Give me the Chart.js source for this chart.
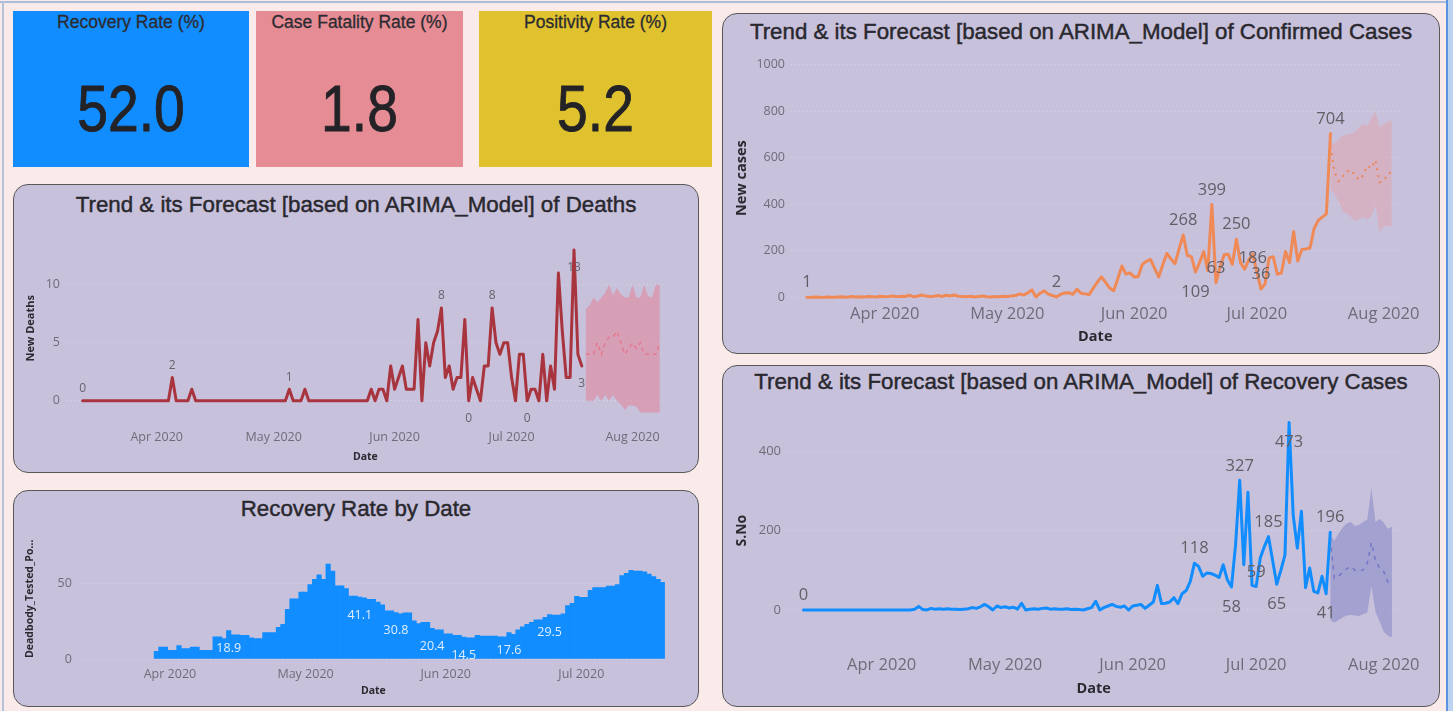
<!DOCTYPE html>
<html>
<head>
<meta charset="utf-8">
<title>COVID-19 Trend Dashboard</title>
<script src="https://cdn.jsdelivr.net/npm/chart.js@4.4.1/dist/chart.umd.min.js"></script>
<style>
  html, body { margin: 0; padding: 0; }
  body {
    width: 1453px; height: 711px; overflow: hidden; position: relative;
    background: #fbeaea; font-family: "Liberation Sans", Arial, sans-serif;
  }
  .frame-top { position: absolute; left: 0; top: 1px; width: 1446px; height: 2px; background: #aabddc; }
  .frame-left { position: absolute; left: 2px; top: 1px; width: 2px; height: 711px; background: #b4c2dc; }
  .edge { position: absolute; left: 1446px; top: 0; width: 7px; height: 711px; box-sizing: border-box;
          background: #bcd2f1; border-left: 2px solid #5b93e2; }
  .card { position: absolute; top: 11px; height: 156px; }
  .card .t { position: absolute; left: 0; right: 0; top: 0; text-align: center;
             font-size: 17.5px; line-height: 22px; color: #2c2b30; white-space: nowrap;
             -webkit-text-stroke: 0.3px #2c2b30; }
  .card .v { position: absolute; left: 0; right: 0; top: 66px; text-align: center;
             font-family: "Liberation Sans Narrow", "Liberation Sans", sans-serif;
             font-size: 65px; line-height: 64px; color: #232226;
             transform: scaleX(0.85); transform-origin: 50% 50%;
             -webkit-text-stroke: 0.9px #232226; }
  .panel { position: absolute; box-sizing: border-box; background: #c8c1dc;
           border: 1.6px solid #585858; border-radius: 15px; }
  .ptitle { position: absolute; text-align: center; font-size: 22.3px; line-height: 26px;
            color: #29282e; white-space: nowrap; -webkit-text-stroke: 0.45px #29282e; }
  .box { position: absolute; }
</style>
</head>
<body>
<div class="frame-top"></div>
<div class="frame-left"></div>
<div class="edge"></div>

<div id="cards"></div>

<div class="panel" style="left:13px;top:184px;width:686px;height:289px"></div>
<div class="panel" style="left:13px;top:490px;width:686px;height:217px"></div>
<div class="panel" style="left:722px;top:12.5px;width:718px;height:341px"></div>
<div class="panel" style="left:722px;top:365px;width:718px;height:342px"></div>

<div class="ptitle" style="left:13px;width:686px;top:192px">Trend &amp; its Forecast [based on ARIMA_Model] of Deaths</div>
<div class="ptitle" style="left:13px;width:686px;top:496px">Recovery Rate by Date</div>
<div class="ptitle" style="left:722px;width:718px;top:19px">Trend &amp; its Forecast [based on ARIMA_Model] of Confirmed Cases</div>
<div class="ptitle" style="left:722px;width:718px;top:369px">Trend &amp; its Forecast [based on ARIMA_Model] of Recovery Cases</div>

<div class="box" style="left:14px;top:218px;width:684px;height:252px"><canvas id="deathsChart"></canvas></div>
<div class="box" style="left:14px;top:520px;width:684px;height:186px"><canvas id="rateChart"></canvas></div>
<div class="box" style="left:722px;top:40px;width:716px;height:312px"><canvas id="confirmedChart"></canvas></div>
<div class="box" style="left:722px;top:398px;width:716px;height:307px"><canvas id="recoveryChart"></canvas></div>

<script>
// Day numbers count from 1 March 2020 (day 0); day 12 = 13 Mar, day 140 = 19 Jul.
const monthTickDays = [31, 61, 92, 122, 153];
const monthTickLabels = ['Apr 2020', 'May 2020', 'Jun 2020', 'Jul 2020', 'Aug 2020'];

// Headline cards
const kpiLabels = ['Recovery Rate (%)', 'Case Fatality Rate (%)', 'Positivity Rate (%)'];
const kpiValues = [52.0, 1.8, 5.2];
const kpiColors = ['#118dff', '#e68c94', '#e0c22e'];
const kpiBoxes = [[13, 236], [256, 207], [479, 233]];

// New deaths per day, 13 Mar .. 19 Jul
const deathsFirstDay = 12;
const newDeaths = [
  0, 0, 0, 0, 0, 0, 0, 0, 0, 0,
  0, 0, 0, 0, 0, 0, 0, 0, 0, 0,
  0, 0, 0, 2, 0, 0, 0, 0, 1, 0,
  0, 0, 0, 0, 0, 0, 0, 0, 0, 0,
  0, 0, 0, 0, 0, 0, 0, 0, 0, 0,
  0, 0, 0, 1, 0, 0, 0, 1, 0, 0,
  0, 0, 0, 0, 0, 0, 0, 0, 0, 0,
  0, 0, 0, 0, 1, 0, 1, 1, 0, 3,
  1, 2, 3, 1, 1, 1, 7, 0, 5, 3,
  5, 6, 8, 2, 3, 1, 2, 2, 7, 0,
  2, 1, 0, 3, 3, 8, 5, 4, 5, 5,
  2, 0, 4, 4, 0, 1, 1, 0, 4, 0,
  3, 1, 11, 6, 2, 2, 13, 4, 3
];
// ARIMA forecast of deaths, 20 Jul .. 8 Aug
const deathsForecastFirstDay = 141;
const deathsForecast = [4, 4, 4, 5, 4, 5, 5.5, 5.5, 6, 5, 4, 4.5, 5, 4.5, 5, 4, 4, 4, 4, 5];
const deathsUpper = [7.9, 8.2, 8.9, 8.5, 8.9, 9.3, 10, 9.1, 9.7, 9.2, 8.9, 8.9, 10, 8.9, 8.9, 10, 9, 8.9, 10, 10];
const deathsLower = [0, 0, 0, 0.5, 0, 0.5, 0, 0.5, 0, -0.3, -0.8, -0.4, -0.4, -0.5, -1, -1, -1, -1, -1, -1];
const deathsTicks = [0, 5, 10];
const deathsLabelled = [[12, 'above'], [35, 'above'], [65, 'above'], [104, 'above'], [111, 'below'],
                        [117, 'above'], [126, 'below'], [138, 'below'], [140, 'below']];

// New confirmed cases per day, 13 Mar .. 19 Jul
const confirmedFirstDay = 12;
const newCases = [
  1, 0, 2, 1, 0, 2, 1, 1, 3, 2,
  1, 4, 2, 3, 2, 4, 3, 2, 5, 3,
  4, 6, 3, 5, 4, 9, 3, 5, 10, 6,
  4, 5, 8, 4, 9, 6, 10, 5, 4, 3,
  5, 2, 4, 6, 3, 2, 4, 3, 5, 4,
  6, 8, 15, 10, 20, 32, 2, 18, 28, 14,
  8, 2, 13, 19, 20, 13, 35, 18, 15, 12,
  40, 65, 88, 65, 40, 29, 80, 135, 100, 105,
  88, 90, 142, 155, 163, 125, 88, 140, 189, 165,
  145, 210, 268, 180, 175, 109, 150, 197, 115, 399,
  63, 130, 183, 185, 142, 250, 150, 121, 160, 186,
  110, 36, 58, 170, 175, 100, 105, 197, 150, 283,
  156, 206, 208, 212, 296, 331, 345, 359, 704
];
// ARIMA forecast of confirmed cases, 19 Jul .. 3 Aug
const casesForecastFirstDay = 140;
const casesForecast = [650, 540, 500, 520, 540, 549, 525, 505, 525, 566, 555, 590, 495, 500, 530, 538];
const casesUpper = [665, 660, 680, 696, 700, 703, 712, 730, 745, 738, 770, 800, 730, 745, 755, 759];
const casesLower = [460, 445, 410, 370, 360, 345, 331, 335, 345, 335, 350, 395, 280, 305, 310, 303];
const casesTicks = [0, 200, 400, 600, 800, 1000];
const casesLabelled = [[12, 'above'], [73, 'above'], [104, 'above'], [107, 'below'], [111, 'above'],
                       [112, 'above'], [117, 'above'], [121, 'on'], [123, 'above'], [140, 'above']];

// Recoveries per day, 13 Mar .. 19 Jul
const recoveryFirstDay = 12;
const recoveries = [
  0, 0, 0, 0, 0, 0, 0, 0, 0, 0,
  0, 0, 0, 0, 0, 0, 0, 0, 0, 0,
  0, 0, 0, 0, 0, 0, 0, 2, 9, 1,
  0, 4, 2, 3, 2, 3, 2, 2, 1, 2,
  3, 6, 4, 8, 14, 8, 0, 10, 6, 8,
  5, 7, 2, 17, 0, 2, 3, 2, 4, 5,
  2, 3, 2, 2, 3, 1, 2, 1, 0, 3,
  6, 22, 0, 6, 10, 14, 9, 7, 10, 0,
  10, 12, 14, 4, 12, 20, 62, 16, 17, 20,
  31, 16, 41, 49, 72, 118, 110, 85, 93, 92,
  88, 82, 114, 76, 58, 164, 327, 114, 297, 62,
  59, 131, 160, 185, 125, 65, 100, 139, 473, 239,
  156, 249, 56, 106, 47, 43, 85, 41, 196
];
// ARIMA forecast of recoveries, 19 Jul .. 3 Aug
const recoveryForecastFirstDay = 140;
const recoveryForecast = [180, 80, 85, 95, 104, 110, 100, 98, 101, 118, 170, 125, 105, 97, 70, 62];
const recoveryUpper = [190, 175, 192, 208, 218, 222, 212, 215, 222, 228, 308, 222, 230, 220, 205, 210];
const recoveryLower = [-25, -32, -25, -19, -14, -12, -14, -15, -10, -7, 60, -5, -30, -55, -65, -69];
const recoveryTicks = [0, 200, 400];
const recoveryLabelled = [[12, 'above'], [107, 'above'], [116, 'below'], [118, 'above'], [122, 'above'],
                          [125, 'above'], [127, 'below'], [130, 'below'], [139, 'below'], [140, 'above']];

// Recovery rate (%) by date, 29 Mar .. 19 Jul
const rateFirstDay = 28;
const recoveryRate = [
  5.1, 8, 8, 5.8,
  5.8, 9, 7, 7, 8, 8, 5.8, 5.8, 5.8, 14.8,
  14.8, 13.5, 18.9, 16, 16, 15.7, 15.7, 14, 13.5, 13.5,
  17.5, 17.5, 17.5, 21, 23, 33, 40, 40, 44.5, 44.5,
  49.5, 53, 56, 53, 63, 58.5, 48.6, 48.6, 46.8, 41.8,
  41.8, 41.1, 40.7, 39.6, 39.6, 37.8, 36, 32, 32, 30.8,
  30, 30.6, 30.6, 25.4, 23.6, 24.3, 24.3, 20.4, 19.3, 19.3,
  16.8, 16.8, 15.7, 15.7, 14.5, 14.1, 14.1, 15.7, 15.3, 15.3,
  15.3, 15.3, 14.8, 14.8, 17.6, 16.4, 19.3, 21.3, 23, 24.3,
  26, 26, 27.7, 29.5, 29.2, 29.2, 30, 35.5, 37, 41.6,
  41, 41, 45.7, 47.5, 47.5, 47.5, 48.4, 48.4, 49.5, 55.4,
  57, 59, 58.5, 58.5, 58, 56.5, 54.7, 53, 50.9
];
const rateTicks = [0, 50];
const rateLabelled = [[44, 'in'], [73, 'in'], [81, 'in'], [89, 'in'], [96, 'in'], [106, 'in'], [115, 'in']];

// ---------------------------------------------------------------------------

document.getElementById('cards').innerHTML = kpiLabels.map((t, i) =>
  `<div class="card" style="left:${kpiBoxes[i][0]}px;width:${kpiBoxes[i][1]}px;background:${kpiColors[i]}">
     <div class="t">${t}</div><div class="v">${kpiValues[i].toFixed(1)}</div></div>`).join('');

function series(first, values) {
  return values.map((v, i) => ({ x: first + i, y: v }));
}

// Draws the value of selected points of the first dataset next to the mark.
function valueLabels(items, o) {
  return {
    id: 'valueLabels',
    afterDatasetsDraw(chart) {
      const pts = chart.data.datasets[0].data;
      const meta = chart.getDatasetMeta(0);
      const ctx = chart.ctx;
      ctx.save();
      ctx.font = o.font;
      ctx.fillStyle = o.color;
      ctx.textAlign = 'center';
      ctx.textBaseline = 'middle';
      items.forEach(([day, place]) => {
        const i = pts.findIndex(p => p.x === day);
        if (i < 0) return;
        const el = meta.data[i];
        const dy = place === 'above' ? -o.above : place === 'below' ? o.below : o.on;
        ctx.fillText(o.format(pts[i].y), el.x, el.y + dy);
      });
      ctx.restore();
    }
  };
}

const TICK_COLOR = '#6f6c78';
const TITLE_COLOR = '#2b2a30';
const GRID_COLOR = 'rgba(255,255,255,0.32)';

function axes(g) {
  return {
    x: {
      type: 'linear', min: g.xMin, max: g.xMax, offset: false,
      grid: { display: false, drawTicks: false }, border: { display: false },
      afterBuildTicks: s => { s.ticks = monthTickDays.filter(d => d >= g.xMin && d <= g.xMax).map(v => ({ value: v })); },
      afterFit: s => { s.height = g.xAxisH; },
      ticks: {
        autoSkip: false, maxRotation: 0, minRotation: 0, padding: g.xTickPad, color: TICK_COLOR,
        font: { family: 'Open Sans', size: g.xTickSize },
        callback: v => monthTickLabels[monthTickDays.indexOf(v)]
      },
      title: {
        display: true, text: 'Date', color: TITLE_COLOR,
        font: { family: 'Open Sans', size: g.xTitleSize, weight: 'bold' },
        padding: { top: 0, bottom: g.xTitlePad }
      }
    },
    y: {
      min: g.yMin, max: g.yMax,
      afterBuildTicks: s => { s.ticks = g.yTicks.map(v => ({ value: v })); },
      afterFit: s => { s.width = g.yAxisW; },
      grid: { color: GRID_COLOR, drawTicks: false, lineWidth: 1 },
      border: { display: false, dash: [1, 3] },
      ticks: {
        padding: g.yTickPad, color: TICK_COLOR,
        font: { family: 'Open Sans', size: g.yTickSize },
        callback: v => String(v)
      },
      title: {
        display: true, text: g.yTitle, color: TITLE_COLOR,
        font: { family: 'Open Sans', size: g.yTitleSize, weight: 'bold' },
        padding: { top: g.yTitlePad, bottom: 0 }
      }
    }
  };
}

function forecastChart(id, s, g, labels) {
  return new Chart(document.getElementById(id), {
    type: 'line',
    data: {
      datasets: [
        { data: series(s.first, s.actual), borderColor: s.color, borderWidth: 3, pointRadius: 0,
          tension: 0, fill: false, borderJoinStyle: 'round', borderCapStyle: 'round' },
        { data: series(s.fFirst, s.mean), borderColor: s.meanColor, borderWidth: s.meanWidth,
          borderDash: s.dash, pointRadius: 0, tension: 0, fill: false },
        { data: series(s.fFirst, s.upper), borderColor: 'transparent', borderWidth: 0, pointRadius: 0,
          tension: 0, fill: '+1', backgroundColor: s.band },
        { data: series(s.fFirst, s.lower), borderColor: 'transparent', borderWidth: 0, pointRadius: 0,
          tension: 0, fill: false }
      ]
    },
    options: {
      responsive: true, maintainAspectRatio: false, animation: false, devicePixelRatio: 1,
      layout: { padding: { left: 0, top: g.padTop, right: g.padRight, bottom: 0 } },
      plugins: { legend: { display: false }, tooltip: { enabled: false } },
      scales: axes(g)
    },
    plugins: [labels]
  });
}

// Deaths
forecastChart('deathsChart',
  { first: deathsFirstDay, actual: newDeaths, color: '#a8343d',
    fFirst: deathsForecastFirstDay, mean: deathsForecast, upper: deathsUpper, lower: deathsLower,
    meanColor: '#e4788f', meanWidth: 1.5, dash: [4, 4], band: 'rgba(226,132,152,0.55)' },
  { xMin: 8, xMax: 161, yMin: -2, yMax: 14.5, yTicks: deathsTicks, yTitle: 'New Deaths',
    padTop: 8, padRight: 34.3, yAxisW: 53, xAxisH: 46,
    xTickPad: 5.5, xTickSize: 12.5, yTickPad: 7, yTickSize: 12.5,
    xTitleSize: 10.5, xTitlePad: 6.7, yTitleSize: 11, yTitlePad: 10.4 },
  valueLabels(deathsLabelled, { font: '12px "Open Sans"', color: '#66636c', above: 12, below: 18, on: 0,
    format: v => String(v) }));

// Confirmed cases
forecastChart('confirmedChart',
  { first: confirmedFirstDay, actual: newCases, color: '#ef8a57',
    fFirst: casesForecastFirstDay, mean: casesForecast, upper: casesUpper, lower: casesLower,
    meanColor: '#e9875a', meanWidth: 2, dash: [2, 5], band: 'rgba(230,157,160,0.42)' },
  { xMin: 8, xMax: 157, yMin: -25, yMax: 1050, yTicks: casesTicks, yTitle: 'New cases',
    padTop: 9.7, padRight: 38, yAxisW: 68.6, xAxisH: 48.8,
    xTickPad: 1, xTickSize: 16.5, yTickPad: 5.6, yTickSize: 12.5,
    xTitleSize: 14.5, xTitlePad: 6.3, yTitleSize: 14.5, yTitlePad: 11.3 },
  valueLabels(casesLabelled, { font: '16.5px "Open Sans"', color: '#615e66', above: 14.5, below: 20, on: 4,
    format: v => String(v) }));

// Recovery cases
forecastChart('recoveryChart',
  { first: recoveryFirstDay, actual: recoveries, color: '#118dff',
    fFirst: recoveryForecastFirstDay, mean: recoveryForecast, upper: recoveryUpper, lower: recoveryLower,
    meanColor: '#7476c8', meanWidth: 1.5, dash: [4, 5], band: 'rgba(118,121,193,0.45)' },
  { xMin: 8, xMax: 157, yMin: -100, yMax: 500, yTicks: recoveryTicks, yTitle: 'S.No',
    padTop: 11.6, padRight: 37.8, yAxisW: 65, xAxisH: 55.4,
    xTickPad: 6, xTickSize: 16.5, yTickPad: 6, yTickSize: 13,
    xTitleSize: 14.5, xTitlePad: 7.6, yTitleSize: 14, yTitlePad: 11.6 },
  valueLabels(recoveryLabelled, { font: '16.5px "Open Sans"', color: '#615e66', above: 14.5, below: 20, on: 0,
    format: v => String(v) }));

// Recovery rate by date (columns)
(function () {
  const g = { xMin: 11.5, xMax: 140.5, yMin: 0, yMax: 80, yTicks: rateTicks, yTitle: 'Deadbody_Tested_Po...',
    padTop: 18.6, padRight: 33.1, yAxisW: 67.8, xAxisH: 47,
    xTickPad: 7.5, xTickSize: 12.5, yTickPad: 10, yTickSize: 12.5,
    xTitleSize: 10.5, xTitlePad: 8.7, yTitleSize: 10.5, yTitlePad: 9.7 };
  new Chart(document.getElementById('rateChart'), {
    type: 'bar',
    data: {
      datasets: [{ data: series(rateFirstDay, recoveryRate), backgroundColor: '#118dff', borderWidth: 0,
                   barPercentage: 1, categoryPercentage: 1 }]
    },
    options: {
      responsive: true, maintainAspectRatio: false, animation: false, devicePixelRatio: 1,
      layout: { padding: { left: 0, top: g.padTop, right: g.padRight, bottom: 0 } },
      plugins: { legend: { display: false }, tooltip: { enabled: false } },
      scales: axes(g)
    },
    plugins: [valueLabels(rateLabelled, { font: '12.5px "Open Sans"', color: 'rgba(236,243,255,0.95)',
      above: 0, below: 0, on: 18, format: v => v.toFixed(1) })]
  });
})();
</script>
</body>
</html>
